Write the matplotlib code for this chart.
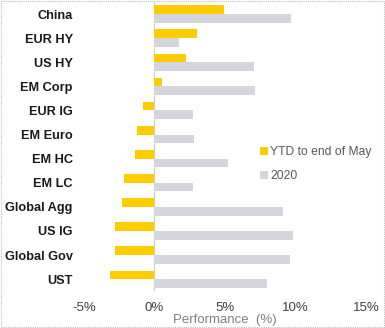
import numpy as np
import matplotlib.pyplot as plt
from matplotlib.patches import Rectangle

plt.rcParams["font.family"] = ["Liberation Sans", "DejaVu Sans"]

# Bond sector returns (%)
sectors = ["China", "EUR HY", "US HY", "EM Corp", "EUR IG", "EM Euro",
           "EM HC", "EM LC", "Global Agg", "US IG", "Global Gov", "UST"]
ytd_may = [4.9, 3.0, 2.25, 0.5, -0.8, -1.25, -1.4, -2.15, -2.3, -2.8, -2.8, -3.15]
perf_2020 = [9.7, 1.75, 7.05, 7.15, 2.75, 2.8, 5.2, 2.7, 9.1, 9.85, 9.6, 8.0]
xticks = [-5, 0, 5, 10, 15]
xtick_labels = ["-5%", "0%", "5%", "10%", "15%"]

fig = plt.figure(figsize=(3.85, 3.28), dpi=100)
ax = fig.add_axes([0.218, 0.112, 0.733, 0.882])

y = np.arange(len(sectors))
h = 0.36
ax.barh(y - h / 2, ytd_may, height=h, color="#FFCC00", label="YTD to end of May", zorder=2)
ax.barh(y + h / 2, perf_2020, height=h, color="#D5D5DD", label="2020", zorder=2)

ax.set_ylim(len(sectors) - 0.5, -0.5)
ax.set_yticks(y)
ax.set_yticklabels(sectors, fontsize=9.2, fontweight="bold", color="#1a1a1a")
ax.tick_params(axis="y", length=0, pad=8)

ax.set_xlim(-5, 15)
ax.set_xticks(xticks)
ax.set_xticklabels(xtick_labels, fontsize=9.5, color="#404040")
ax.tick_params(axis="x", length=0, pad=8)
ax.set_xlabel("Performance  (%)", fontsize=9.5, color="#808080", labelpad=0)

for s in ax.spines.values():
    s.set_visible(False)
ax.axvline(0, color="#D0D0D0", lw=0.9, zorder=1)

ax.legend(loc="center left", bbox_to_anchor=(0.625, 0.44), frameon=False,
          borderaxespad=0, borderpad=0,
          fontsize=8.7, labelcolor="#595959", handlelength=0.6, handleheight=0.6,
          handletextpad=0.2, labelspacing=1.0)

# dotted chart border
fig.patches.append(Rectangle((0.002, 0.002), 0.995, 0.995, transform=fig.transFigure,
                             fill=False, ec="#BFBFBF", lw=0.8, ls=(0, (1, 1))))

fig.savefig("out.png", dpi=100)
